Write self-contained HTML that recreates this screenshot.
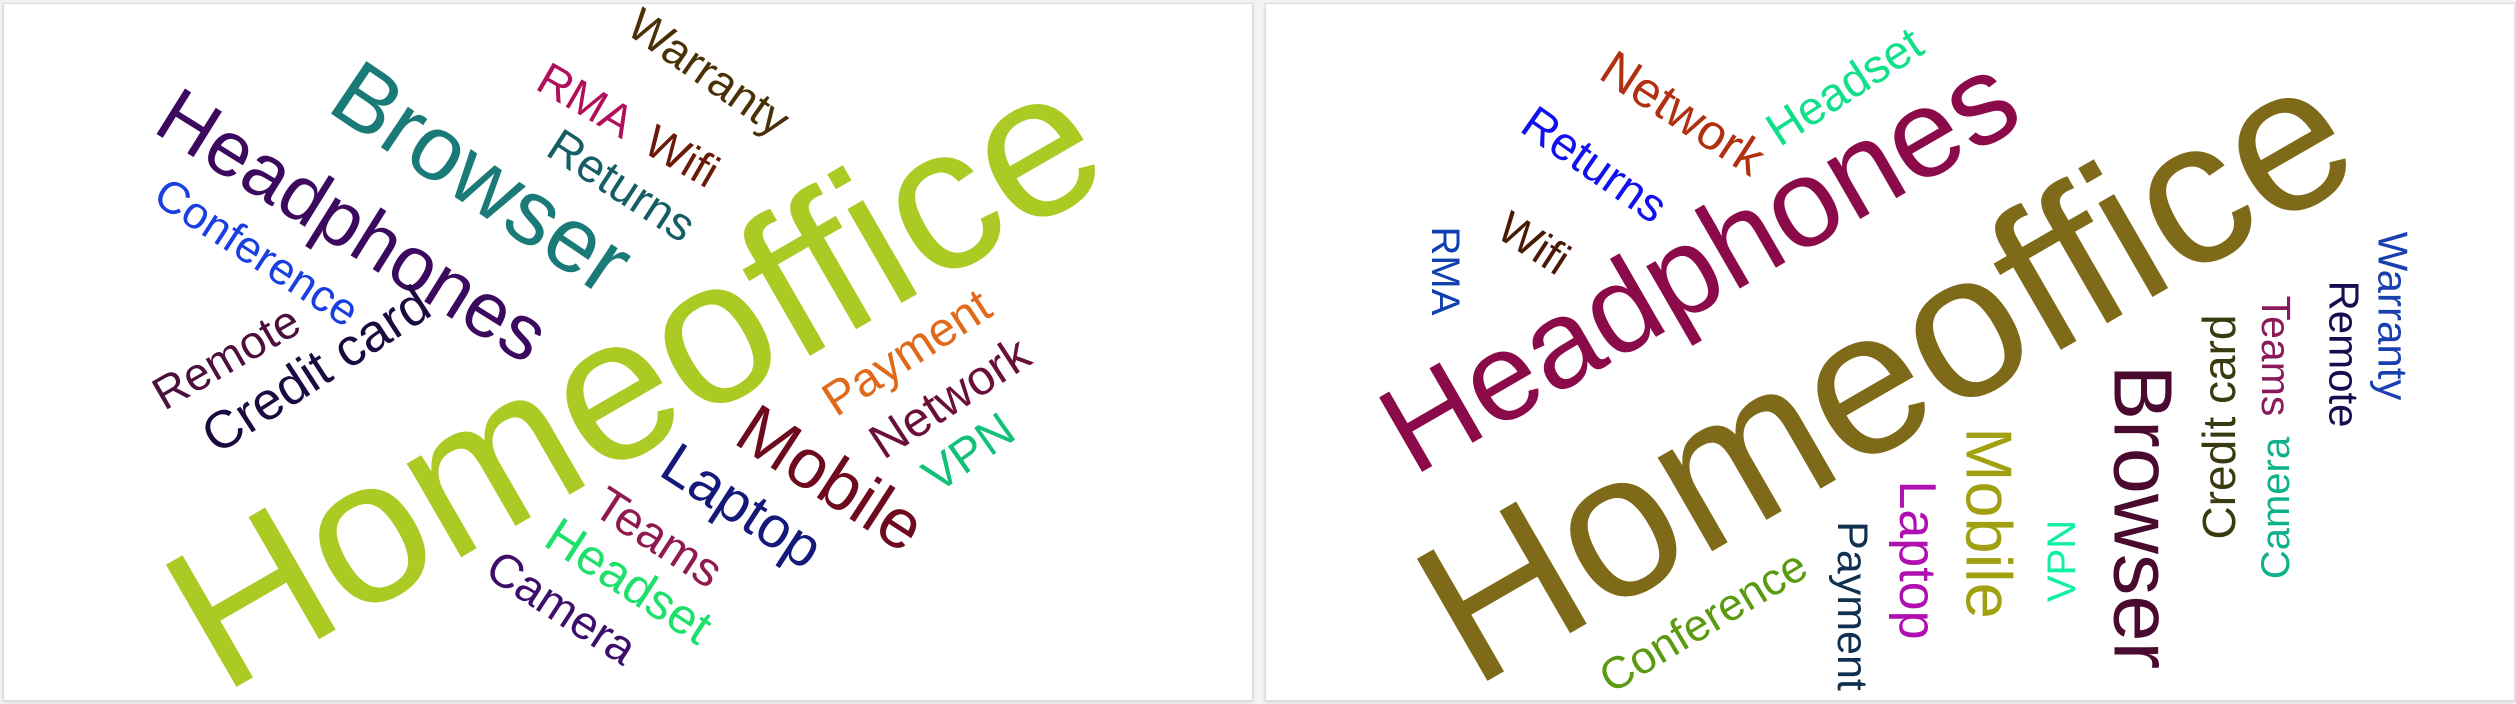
<!DOCTYPE html>
<html><head><meta charset="utf-8">
<style>
html,body{margin:0;padding:0;background:#f3f3f3;width:2516px;height:704px;overflow:hidden}
.card{position:absolute;top:3px;height:696px;background:#fff;border:1px solid #dcdcdc;box-shadow:0 1px 3px rgba(0,0,0,.15)}
svg{position:absolute;left:0;top:0}
text{font-family:"Liberation Sans",sans-serif}
</style></head>
<body>
<div class="card" style="left:3px;width:1248px"></div>
<div class="card" style="left:1265px;width:1248px"></div>
<svg id="cloud" width="2516" height="704"></svg>
<script>
// Left cloud data
const leftWords   = ["Homeoffice","Headphones","Browser","Warranty","RMA","Wifi","Returns","Conference","Remote","Credit card","Payment","Network","VPN","Mobile","Laptop","Teams","Headset","Camera"];
const leftWeights = [205,78,92,46,46,46,47,45,46,53,48,49,48,70,58,48,50,47];
const leftColors  = ["#abca24","#3b0a5e","#1a7a78","#4a3006","#b0105a","#6b1a08","#155e63","#1a3fe0","#4d0f3d","#1a0a40","#e06a1a","#6a0f3a","#12c07a","#6e0a1e","#151a7a","#8f1a4f","#1ee06a","#3d0f6a"];
const leftLayout  = [[634,376,-30],[353,225,32],[482,178,34],[709,72,35],[586,100,30],[682,156,30],[622,185,33],[257,252,33],[226,357,-30],[316,370,-33],[907,353,-33],[950,398,-33],[969,453,-35],[831,478,33],[742,506,33],[658,538,33],[629,581,33],[562,607,33]];
// Right cloud data
const rightWords   = ["Homeoffice","Headphones","Network","Headset","Returns","Wifi","RMA","Warranty","Remote","Teams","Camera","Credit card","Browser","VPN","Mobile","Laptop","Payment","Conference"];
const rightWeights = [205,125,50,47,47,45,40,42,42,41,40,46,83,40,65,52,43,45];
const rightColors  = ["#7e6a18","#8a0a4a","#b03010","#10e08a","#1010f0","#4a1a06","#1040b0","#1a40b0","#1a0a50","#8a1a5a","#10b08a","#3a3a10","#4a0a30","#10f0a0","#a0a010","#b010b0","#103050","#5a9a10"];
const rightLayout  = [[1885,370,-30],[1699,263,-30],[1683,113,33],[1844,86,-33],[1595,164,35],[1534,243,33],[1445,271,90],[2393,316,90],[2344,354,90],[2276,356,90],[2276,508,-90],[2219,427,-90],[2143,517,90],[2062,561,-90],[1989,523,90],[1917,560,90],[1852,606,90],[1703,621,-31]];

const svg=document.getElementById('cloud');
const NS='http://www.w3.org/2000/svg';
function sizeScale(w){return w;}
function draw(words,weights,colors,layout,side){
  words.forEach((w,i)=>{
    const t=document.createElementNS(NS,'text');
    const [x,y,r]=layout[i];
    t.setAttribute('x',x);t.setAttribute('y',y);
    t.setAttribute('text-anchor','middle');
    t.setAttribute('dominant-baseline','central');
    t.setAttribute('font-size',sizeScale(weights[i]));
    t.setAttribute('fill',colors[i]);
    t.setAttribute('transform','rotate('+r+' '+x+' '+y+')');
    t.textContent=w;
    
    
    svg.appendChild(t);
  });
}
draw(leftWords,leftWeights,leftColors,leftLayout,'left');
draw(rightWords,rightWeights,rightColors,rightLayout,'right');
</script>
</body></html>
